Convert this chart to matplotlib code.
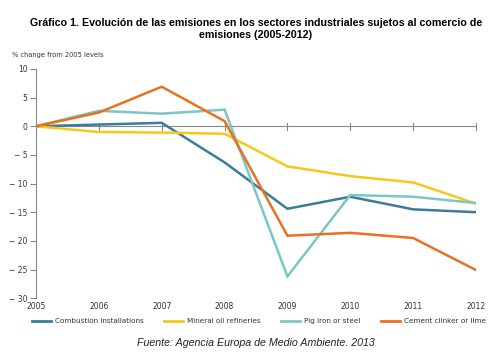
import matplotlib
matplotlib.use("Agg")
import matplotlib.pyplot as plt
from matplotlib.lines import Line2D

years = [2005, 2006, 2007, 2008, 2009, 2010, 2011, 2012]
combustion = [0, 0.3, 0.6, -6.3, -14.4, -12.3, -14.5, -15.0]
mineral_oil = [0, -1.0, -1.1, -1.3, -7.0, -8.7, -9.8, -13.5]
pig_iron = [0, 2.7, 2.2, 2.9, -26.2, -12.0, -12.3, -13.4]
cement = [0, 2.4, 6.9, 0.9, -19.1, -18.6, -19.5, -25.1]
series_names = ["Combustion installations", "Mineral oil refineries",
                "Pig iron or steel", "Cement clinker or lime"]
colors = ["#3d7b9c", "#f7c81a", "#7cc6c3", "#e8721f"]
yticks = [10, 5, 0, -5, -10, -15, -20, -25, -30]

fig = plt.figure(figsize=(5, 3.52), dpi=100)
ax = fig.add_axes([0.072, 0.153, 0.88, 0.651])

for vals, c, n in zip([combustion, mineral_oil, pig_iron, cement], colors, series_names):
    ax.plot(years, vals, color=c, lw=1.8, label=n, zorder=3, solid_joinstyle="miter")

ax.set_xlim(2005, 2012)
ax.set_ylim(-30, 10)
for s in ["top", "right", "bottom"]:
    ax.spines[s].set_visible(False)
ax.spines["left"].set_color("#888888")
ax.spines["left"].set_linewidth(0.8)

# zero line with crossing ticks
ax.axhline(0, color="#888888", lw=0.8, zorder=1)
for yr in years:
    ax.plot([yr, yr], [-0.6, 0.6], color="#888888", lw=0.8, zorder=1, clip_on=False)

ax.set_yticks(yticks)
ax.set_yticklabels([("\u2212 %d" % abs(v)) if v < 0 else str(v) for v in yticks])
ax.tick_params(axis="y", length=4, width=0.8, color="#888888", labelsize=5.5,
               labelcolor="#333333", pad=2)
ax.set_xticks(years)
ax.set_xticklabels([str(y) for y in years])
ax.tick_params(axis="x", length=0, labelsize=5.5, labelcolor="#333333", pad=3)

fig.text(0.512, 0.935, "Gráfico 1. Evolución de las emisiones en los sectores industriales sujetos al comercio de",
         ha="center", va="center", fontsize=7.65, fontweight="bold", family="Liberation Sans")
fig.text(0.512, 0.900, "emisiones (2005-2012)",
         ha="center", va="center", fontsize=7.65, fontweight="bold", family="Liberation Sans")
fig.text(0.024, 0.843, "% change from 2005 levels", ha="left", va="center",
         fontsize=4.8, color="#333333")

handles = [Line2D([0], [0], color=c, lw=2) for c in colors]
fig.legend(handles, series_names, loc="center", bbox_to_anchor=(0.518, 0.088), ncol=4,
           frameon=False, fontsize=5.2, handlelength=2.6, columnspacing=2.8,
           handletextpad=0.6, labelcolor="#333333", borderpad=0, borderaxespad=0)

fig.text(0.512, 0.025, "Fuente: Agencia Europa de Medio Ambiente. 2013", ha="center",
         va="center", fontsize=7.7, style="italic", family="Liberation Sans", color="#222222")

fig.savefig("out.png", dpi=100)
